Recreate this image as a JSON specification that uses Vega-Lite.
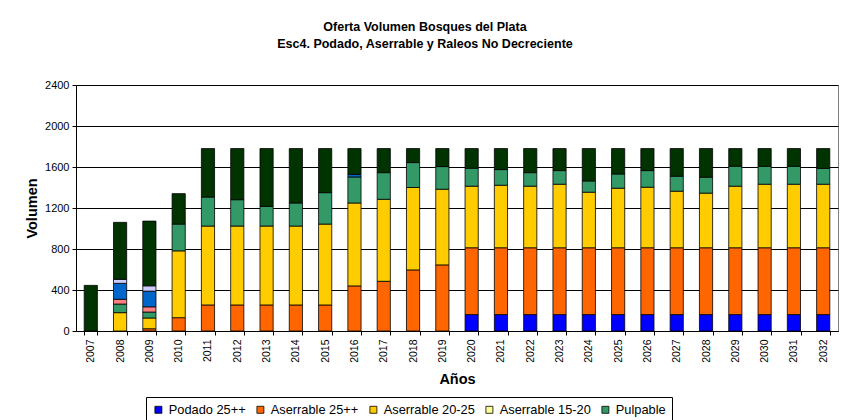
{
  "$schema": "https://vega.github.io/schema/vega-lite/v6.json",
  "width": 762,
  "height": 246,
  "autosize": {"type": "none"},
  "padding": {"left": 76, "top": 85, "right": 3, "bottom": 89},
  "background": "white",
  "config": {
    "font": "Liberation Sans",
    "view": {"stroke": "#808080", "strokeWidth": 1},
    "axis": {"labelColor": "black", "titleColor": "black", "domainColor": "black", "tickColor": "black"}
  },
  "title": {
    "text": ["Oferta Volumen Bosques del Plata", "Esc4. Podado, Aserrable y Raleos No Decreciente"],
    "font": "Liberation Sans",
    "fontSize": 12.5,
    "fontWeight": "bold",
    "lineHeight": 17,
    "color": "black",
    "anchor": "middle",
    "dx": -32,
    "offset": 29
  },
  "data": {
    "values": [
      {"year": "2007", "serie": "Raleo Pulpable", "value": 445},
      {"year": "2008", "serie": "Aserrable 20-25", "value": 179},
      {"year": "2008", "serie": "Pulpable", "value": 84},
      {"year": "2008", "serie": "Raleo Aserrable", "value": 46},
      {"year": "2008", "serie": "Raleo Podado", "value": 156},
      {"year": "2008", "serie": "Raleo 15-20", "value": 39},
      {"year": "2008", "serie": "Raleo Pulpable", "value": 556},
      {"year": "2009", "serie": "Aserrable 25++", "value": 22},
      {"year": "2009", "serie": "Aserrable 20-25", "value": 105},
      {"year": "2009", "serie": "Pulpable", "value": 58},
      {"year": "2009", "serie": "Raleo Aserrable", "value": 51},
      {"year": "2009", "serie": "Raleo Podado", "value": 153},
      {"year": "2009", "serie": "Raleo 15-20", "value": 52},
      {"year": "2009", "serie": "Raleo Pulpable", "value": 631},
      {"year": "2010", "serie": "Aserrable 25++", "value": 130},
      {"year": "2010", "serie": "Aserrable 20-25", "value": 652},
      {"year": "2010", "serie": "Pulpable", "value": 261},
      {"year": "2010", "serie": "Raleo Pulpable", "value": 297},
      {"year": "2011", "serie": "Aserrable 25++", "value": 254},
      {"year": "2011", "serie": "Aserrable 20-25", "value": 770},
      {"year": "2011", "serie": "Pulpable", "value": 283},
      {"year": "2011", "serie": "Raleo Pulpable", "value": 473},
      {"year": "2012", "serie": "Aserrable 25++", "value": 254},
      {"year": "2012", "serie": "Aserrable 20-25", "value": 770},
      {"year": "2012", "serie": "Pulpable", "value": 257},
      {"year": "2012", "serie": "Raleo Pulpable", "value": 499},
      {"year": "2013", "serie": "Aserrable 25++", "value": 254},
      {"year": "2013", "serie": "Aserrable 20-25", "value": 770},
      {"year": "2013", "serie": "Pulpable", "value": 192},
      {"year": "2013", "serie": "Raleo Pulpable", "value": 564},
      {"year": "2014", "serie": "Aserrable 25++", "value": 254},
      {"year": "2014", "serie": "Aserrable 20-25", "value": 770},
      {"year": "2014", "serie": "Pulpable", "value": 225},
      {"year": "2014", "serie": "Raleo Pulpable", "value": 531},
      {"year": "2015", "serie": "Aserrable 25++", "value": 254},
      {"year": "2015", "serie": "Aserrable 20-25", "value": 789},
      {"year": "2015", "serie": "Pulpable", "value": 307},
      {"year": "2015", "serie": "Raleo Pulpable", "value": 430},
      {"year": "2016", "serie": "Aserrable 25++", "value": 440},
      {"year": "2016", "serie": "Aserrable 20-25", "value": 809},
      {"year": "2016", "serie": "Pulpable", "value": 254},
      {"year": "2016", "serie": "Raleo Podado", "value": 25},
      {"year": "2016", "serie": "Raleo Pulpable", "value": 252},
      {"year": "2017", "serie": "Aserrable 25++", "value": 485},
      {"year": "2017", "serie": "Aserrable 20-25", "value": 800},
      {"year": "2017", "serie": "Pulpable", "value": 260},
      {"year": "2017", "serie": "Raleo Pulpable", "value": 235},
      {"year": "2018", "serie": "Aserrable 25++", "value": 596},
      {"year": "2018", "serie": "Aserrable 20-25", "value": 804},
      {"year": "2018", "serie": "Pulpable", "value": 243},
      {"year": "2018", "serie": "Raleo Pulpable", "value": 137},
      {"year": "2019", "serie": "Aserrable 25++", "value": 645},
      {"year": "2019", "serie": "Aserrable 20-25", "value": 738},
      {"year": "2019", "serie": "Pulpable", "value": 221},
      {"year": "2019", "serie": "Raleo Pulpable", "value": 176},
      {"year": "2020", "serie": "Podado 25++", "value": 160},
      {"year": "2020", "serie": "Aserrable 25++", "value": 652},
      {"year": "2020", "serie": "Aserrable 20-25", "value": 601},
      {"year": "2020", "serie": "Pulpable", "value": 175},
      {"year": "2020", "serie": "Raleo Pulpable", "value": 192},
      {"year": "2021", "serie": "Podado 25++", "value": 160},
      {"year": "2021", "serie": "Aserrable 25++", "value": 652},
      {"year": "2021", "serie": "Aserrable 20-25", "value": 610},
      {"year": "2021", "serie": "Pulpable", "value": 153},
      {"year": "2021", "serie": "Raleo Pulpable", "value": 205},
      {"year": "2022", "serie": "Podado 25++", "value": 160},
      {"year": "2022", "serie": "Aserrable 25++", "value": 652},
      {"year": "2022", "serie": "Aserrable 20-25", "value": 601},
      {"year": "2022", "serie": "Pulpable", "value": 132},
      {"year": "2022", "serie": "Raleo Pulpable", "value": 235},
      {"year": "2023", "serie": "Podado 25++", "value": 160},
      {"year": "2023", "serie": "Aserrable 25++", "value": 652},
      {"year": "2023", "serie": "Aserrable 20-25", "value": 620},
      {"year": "2023", "serie": "Pulpable", "value": 133},
      {"year": "2023", "serie": "Raleo Pulpable", "value": 215},
      {"year": "2024", "serie": "Podado 25++", "value": 160},
      {"year": "2024", "serie": "Aserrable 25++", "value": 652},
      {"year": "2024", "serie": "Aserrable 20-25", "value": 542},
      {"year": "2024", "serie": "Pulpable", "value": 110},
      {"year": "2024", "serie": "Raleo Pulpable", "value": 316},
      {"year": "2025", "serie": "Podado 25++", "value": 160},
      {"year": "2025", "serie": "Aserrable 25++", "value": 652},
      {"year": "2025", "serie": "Aserrable 20-25", "value": 581},
      {"year": "2025", "serie": "Pulpable", "value": 139},
      {"year": "2025", "serie": "Raleo Pulpable", "value": 248},
      {"year": "2026", "serie": "Podado 25++", "value": 160},
      {"year": "2026", "serie": "Aserrable 25++", "value": 652},
      {"year": "2026", "serie": "Aserrable 20-25", "value": 591},
      {"year": "2026", "serie": "Pulpable", "value": 162},
      {"year": "2026", "serie": "Raleo Pulpable", "value": 215},
      {"year": "2027", "serie": "Podado 25++", "value": 160},
      {"year": "2027", "serie": "Aserrable 25++", "value": 652},
      {"year": "2027", "serie": "Aserrable 20-25", "value": 552},
      {"year": "2027", "serie": "Pulpable", "value": 146},
      {"year": "2027", "serie": "Raleo Pulpable", "value": 270},
      {"year": "2028", "serie": "Podado 25++", "value": 160},
      {"year": "2028", "serie": "Aserrable 25++", "value": 652},
      {"year": "2028", "serie": "Aserrable 20-25", "value": 533},
      {"year": "2028", "serie": "Pulpable", "value": 155},
      {"year": "2028", "serie": "Raleo Pulpable", "value": 280},
      {"year": "2029", "serie": "Podado 25++", "value": 160},
      {"year": "2029", "serie": "Aserrable 25++", "value": 652},
      {"year": "2029", "serie": "Aserrable 20-25", "value": 601},
      {"year": "2029", "serie": "Pulpable", "value": 194},
      {"year": "2029", "serie": "Raleo Pulpable", "value": 173},
      {"year": "2030", "serie": "Podado 25++", "value": 160},
      {"year": "2030", "serie": "Aserrable 25++", "value": 652},
      {"year": "2030", "serie": "Aserrable 20-25", "value": 620},
      {"year": "2030", "serie": "Pulpable", "value": 175},
      {"year": "2030", "serie": "Raleo Pulpable", "value": 173},
      {"year": "2031", "serie": "Podado 25++", "value": 160},
      {"year": "2031", "serie": "Aserrable 25++", "value": 652},
      {"year": "2031", "serie": "Aserrable 20-25", "value": 620},
      {"year": "2031", "serie": "Pulpable", "value": 175},
      {"year": "2031", "serie": "Raleo Pulpable", "value": 173},
      {"year": "2032", "serie": "Podado 25++", "value": 160},
      {"year": "2032", "serie": "Aserrable 25++", "value": 652},
      {"year": "2032", "serie": "Aserrable 20-25", "value": 620},
      {"year": "2032", "serie": "Pulpable", "value": 155},
      {"year": "2032", "serie": "Raleo Pulpable", "value": 193}
    ]
  },
  "transform": [
    {"calculate": "indexof(['Podado 25++', 'Aserrable 25++', 'Aserrable 20-25', 'Aserrable 15-20', 'Pulpable', 'Raleo Aserrable', 'Raleo Podado', 'Raleo 15-20', 'Raleo Pulpable'], datum.serie)", "as": "stackRank"}
  ],
  "mark": {"type": "bar", "stroke": "black", "strokeWidth": 0.8},
  "encoding": {
    "x": {
      "field": "year",
      "type": "ordinal",
      "scale": {"paddingInner": 0.55, "paddingOuter": 0.28},
      "axis": {
        "title": "Años",
        "titleFontSize": 14.5,
        "titleFontWeight": "bold",
        "titlePadding": 10,
        "labelAngle": -90,
        "labelFontSize": 10.5,
        "labelPadding": 4,
        "tickSize": 4,
        "tickBand": "extent",
        "domainColor": "black",
        "grid": false
      }
    },
    "y": {
      "field": "value",
      "type": "quantitative",
      "stack": "zero",
      "scale": {"domain": [0, 2400], "nice": false},
      "axis": {
        "title": "Volumen",
        "titleFontSize": 14.5,
        "titleFontWeight": "bold",
        "titlePadding": 5,
        "values": [0, 400, 800, 1200, 1600, 2000, 2400],
        "format": "d",
        "labelFontSize": 11,
        "labelPadding": 3,
        "tickSize": 4,
        "grid": true,
        "gridColor": "black",
        "gridOpacity": 1,
        "gridWidth": 1
      }
    },
    "color": {
      "field": "serie",
      "type": "nominal",
      "scale": {
        "domain": ["Podado 25++", "Aserrable 25++", "Aserrable 20-25", "Aserrable 15-20", "Pulpable", "Raleo Aserrable", "Raleo Podado", "Raleo 15-20", "Raleo Pulpable"],
        "range": ["#0000FF", "#FF6600", "#FFCC00", "#FFFF99", "#339966", "#FF8080", "#0066CC", "#CCCCFF", "#003300"]
      },
      "legend": {
        "title": null,
        "orient": "none",
        "legendX": 70,
        "legendY": 312,
        "direction": "horizontal",
        "values": ["Podado 25++", "Aserrable 25++", "Aserrable 20-25", "Aserrable 15-20", "Pulpable"],
        "columns": 5,
        "columnPadding": 8,
        "symbolType": "square",
        "symbolSize": 49,
        "symbolStrokeColor": "black",
        "symbolStrokeWidth": 0.8,
        "symbolOpacity": 1,
        "labelFontSize": 12.8,
        "labelColor": "black",
        "labelOffset": 4,
        "strokeColor": "black",
        "padding": 6,
        "fillColor": "white"
      }
    },
    "order": {"field": "stackRank", "type": "quantitative", "sort": "ascending"}
  }
}
